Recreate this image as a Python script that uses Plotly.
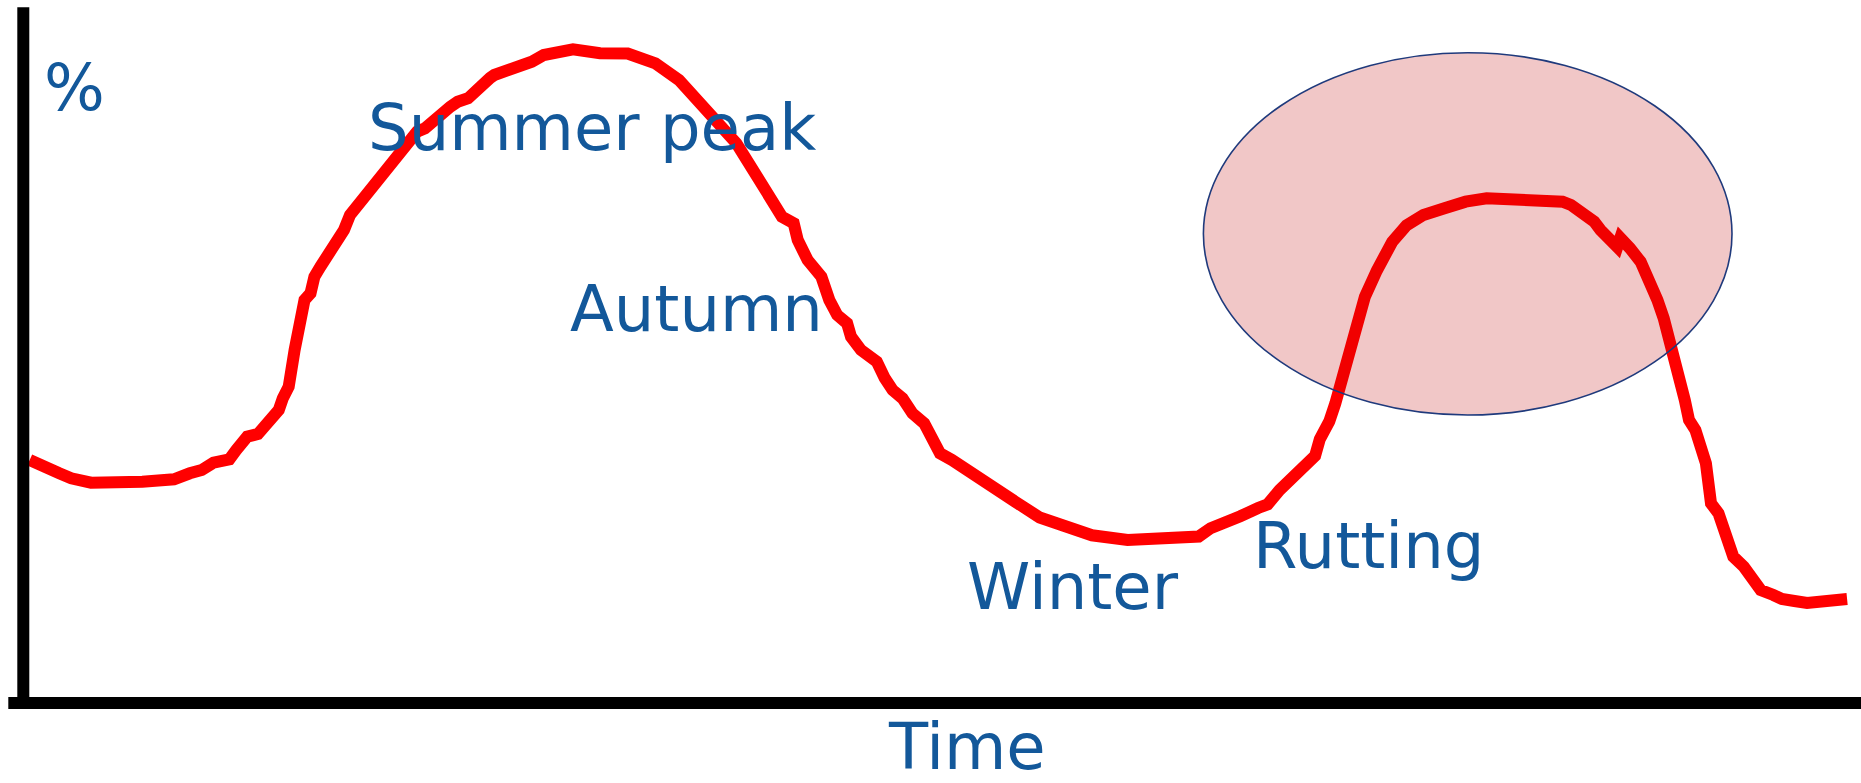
import plotly.graph_objects as go

# ---- data (time / level in arbitrary units, origin at axes crossing) ----
time = [6.4, 20.2, 36.0, 47.9, 67.7, 119.0, 150.7, 166.5, 178.4, 190.2, 206.1, 213.0,
        223.9, 234.7, 245.2, 255.5, 259.5, 265.4, 271.3, 275.3, 281.2, 287.2, 291.1,
        297.1, 320.7, 326.7, 342.5, 350.4, 366.2, 372.2, 385.7, 393.7, 401.7, 411.7,
        417.7, 427.0, 434.4, 444.8, 466.7, 471.0, 508.5, 520.4, 549.7, 576.7, 604.4,
        632.1, 655.7, 683.5, 695.3, 713.1, 734.9, 758.6, 770.4, 774.4, 784.3, 798.1,
        806.0, 813.9, 823.8, 827.7, 837.7, 853.5, 861.4, 869.3, 879.2, 889.1, 900.9,
        916.7, 928.6, 968.2, 980.0, 991.9,
        1016.4, 1033.0, 1044.9, 1068.6, 1104.3, 1175.5, 1187.3, 1199.2, 1217.0, 1234.8,
        1244.3, 1256.2, 1270.4, 1291.8, 1296.5, 1306.0, 1312.0, 1317.9, 1323.8, 1329.8,
        1335.7, 1341.6, 1353.5, 1368.9, 1383.2,
        1400.1, 1421.2, 1442.3, 1463.4, 1509.7, 1539.3, 1547.7, 1570.9,
        1577.2, 1587.7, 1594.0, 1597.0, 1601.0, 1606.7, 1617.3, 1625.7, 1634.1, 1640.4,
        1644.7, 1648.9, 1657.3, 1661.5, 1665.7, 1672.1, 1682.6, 1686.8, 1687.7, 1695.2,
        1703.7, 1710.0, 1720.5, 1729.0, 1737.4, 1750.1, 1758.5, 1771.1, 1783.8, 1823.8]
level = [243.0, 238.0, 229.7, 224.7, 220.3, 221.3, 223.7, 229.7, 233.0, 240.3, 243.7, 253.0,
         266.3, 269.0, 279.7, 293.0, 304.7, 316.3, 353.0, 381.3, 403.0, 409.7, 426.3,
         436.3, 473.0, 488.0, 508.0, 519.7, 539.7, 546.3, 564.7, 571.3, 574.7, 584.7,
         588.0, 596.3, 601.3, 604.7, 625.0, 628.0, 641.3, 648.0, 653.7, 649.7, 649.5,
         639.7, 623.0, 593.0, 583.0, 559.7, 524.7, 486.3, 479.7, 463.0, 443.0, 426.3,
         403.0, 388.0, 379.7, 366.3, 353.0, 341.3, 325.0, 313.0, 304.7, 289.7, 279.7,
         249.7, 243.0, 214.7, 209.7, 201.3,
         185.5, 179.6, 173.6, 167.7, 163.0, 166.5, 174.8, 178.4, 186.7, 195.0,
         198.6, 212.8, 225.9, 247.2, 263.8, 281.7, 299.5, 323.2, 346.9, 370.7,
         388.5, 406.3, 432.4, 461.1, 477.7,
         488.0, 494.7, 501.3, 504.7, 503.0, 501.3, 498.0, 481.3,
         473.0, 461.3, 456.0, 465.0, 459.0, 454.7, 441.3, 424.7, 403.0, 384.7,
         369.7, 346.3, 319.7, 303.0, 283.0, 273.0, 239.7, 213.0, 199.7, 189.7,
         166.3, 146.3, 136.3, 123.0, 113.0, 108.0, 104.0, 102.0, 100.0, 104.0]

season_labels = ["Summer peak", "Autumn", "Winter", "Rutting"]
season_time = [568.3, 673.1, 1049.2, 1345.3]
season_level = [575.5, 394.0, 116.3, 157.0]

y_title = "%"
x_title = "Time"

# rutting zone (time / level extent)
rut_t0, rut_t1 = 1180.1, 1708.7
rut_v0, rut_v1 = 288.0, 650.3

TEXT_COLOR = "#13589A"
FONT = "DejaVu Sans"
FS = 64

fig = go.Figure()
fig.add_trace(go.Scatter(
    x=time, y=level, mode="lines",
    line=dict(color="#FF0000", width=12, shape="linear"),
    hoverinfo="skip", showlegend=False,
))

shapes = []
# rutting ellipse (semi-transparent, above the curve)
shapes.append(dict(type="circle", xref="x", yref="y",
                   x0=rut_t0, x1=rut_t1, y0=rut_v0, y1=rut_v1,
                   fillcolor="rgba(192,0,0,0.22)",
                   line=dict(color="#1F3A7C", width=1.6), layer="above"))
# axes
shapes.append(dict(type="line", xref="x", yref="y", x0=-15, x1=1840, y0=0, y1=0,
                   line=dict(color="black", width=12), layer="above"))
shapes.append(dict(type="line", xref="x", yref="y", x0=0, x1=0, y0=-6, y1=695.7,
                   line=dict(color="black", width=12), layer="above"))

annotations = []
for lab, t, v in zip(season_labels, season_time, season_level):
    annotations.append(dict(x=t, y=v, xref="x", yref="y", text=lab, showarrow=False,
                            xanchor="center", yanchor="middle",
                            font=dict(family=FONT, size=FS, color=TEXT_COLOR)))
annotations.append(dict(x=50.7, y=615.5, xref="x", yref="y", text=y_title, showarrow=False,
                        xanchor="center", yanchor="middle",
                        font=dict(family=FONT, size=FS, color=TEXT_COLOR)))
annotations.append(dict(x=943.4, y=-44.0, xref="x", yref="y", text=x_title, showarrow=False,
                        xanchor="center", yanchor="middle",
                        font=dict(family=FONT, size=FS, color=TEXT_COLOR)))

fig.update_layout(
    width=1861, height=783, autosize=False,
    margin=dict(l=0, r=0, t=0, b=0, pad=0),
    paper_bgcolor="white", plot_bgcolor="white",
    xaxis=dict(range=[-23.3, 1837.7], visible=False, fixedrange=True),
    yaxis=dict(range=[-80, 703], visible=False, fixedrange=True),
    shapes=shapes, annotations=annotations,
    showlegend=False,
)

fig.write_html(
    "out.html",
    config={"displayModeBar": False, "responsive": False},
    post_script="document.body.style.margin='0';document.body.style.overflow='hidden';",
)
